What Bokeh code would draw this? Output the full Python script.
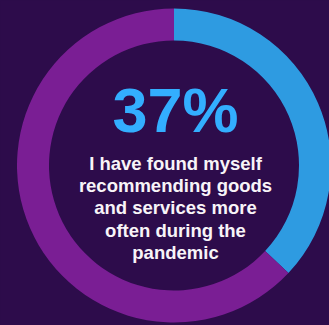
import math
from bokeh.plotting import figure
from bokeh.models import Range1d, ColumnDataSource
from bokeh.core.properties import value
from bokeh.embed import file_html
from bokeh.resources import INLINE

# data
segments = ["Agree", "Other"]
shares = [37, 63]
headline = "37%"
caption_lines = ["I have found myself", "recommending goods", "and services more",
                 "often during the", "pandemic"]

palette = ["#2e9be1", "#7a1e94"]
BG = "#2d0c4b"

W, H = 329, 325
p = figure(width=W, height=H, x_range=Range1d(0, W), y_range=Range1d(0, H),
           output_backend="svg", toolbar_location=None, min_border=0)
p.axis.visible = False
p.grid.visible = False
p.outline_line_color = None
p.background_fill_color = BG
p.border_fill_color = BG

cx, cy = 173.5, H - 165
total = sum(shares)
starts, ends = [], []
acc = 0.0
for s in shares:
    starts.append(math.pi / 2 - 2 * math.pi * acc / total)
    acc += s
    ends.append(math.pi / 2 - 2 * math.pi * acc / total)

src = ColumnDataSource(dict(seg=segments, start=starts, end=ends, color=palette))
p.annular_wedge(x=cx, y=cy, inner_radius=125, outer_radius=157,
                start_angle="start", end_angle="end", direction="clock",
                color="color", line_color=None, source=src)

p.text(x=[175], y=[H - 109], text=[headline], text_align="center",
       text_baseline="alphabetic", text_font=value("Liberation Sans"),
       text_font_style="bold", text_font_size="63px", text_color="#33aeff")

baselines = [163, 185, 207, 229.5, 252]
p.text(x=[175] * len(caption_lines), y=[H - b for b in baselines], text=caption_lines,
       text_align="center", text_baseline="alphabetic",
       text_font=value("Liberation Sans"), text_font_style="bold",
       text_font_size="18.5px", text_color="#f8f4f8")

html = file_html(p, INLINE)
html = html.replace("</head>", "<style>html,body{margin:0;padding:0;background:%s;overflow:hidden}</style></head>" % BG, 1)
open("out.html", "w").write(html)
